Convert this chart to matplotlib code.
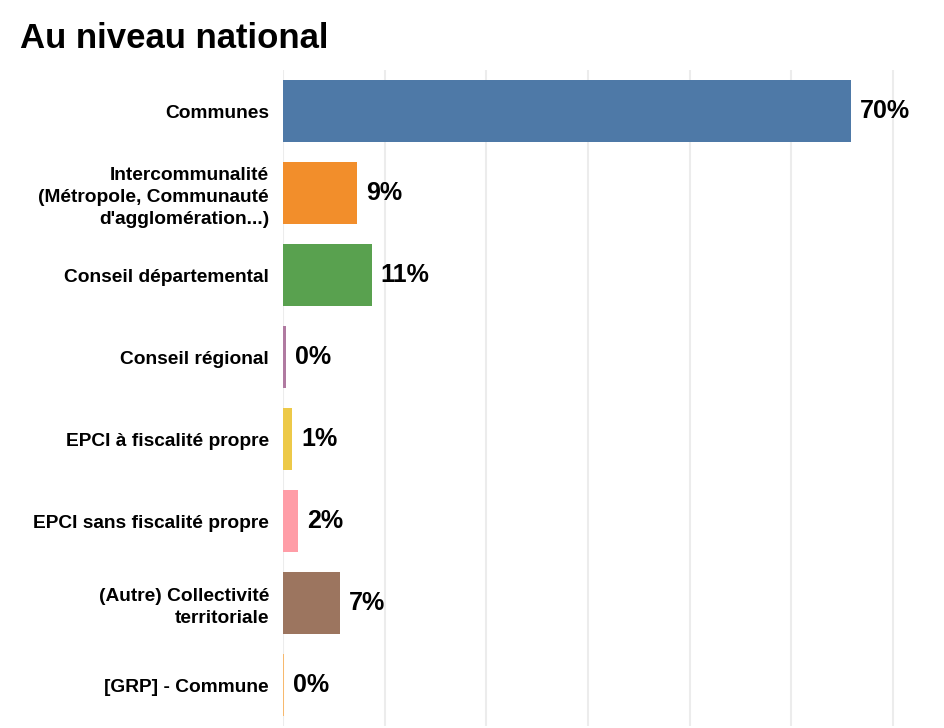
import matplotlib
matplotlib.use("Agg")
import matplotlib.pyplot as plt

categories = [
    "Communes",
    "Intercommunalité\n(Métropole, Communauté\nd'agglomération...)",
    "Conseil départemental",
    "Conseil régional",
    "EPCI à fiscalité propre",
    "EPCI sans fiscalité propre",
    "(Autre) Collectivité\nterritoriale",
    "[GRP] - Commune",
]
values = [69.8, 9.1, 10.9, 0.4, 1.1, 1.8, 7.0, 0.1]
value_labels = ["70%", "9%", "11%", "0%", "1%", "2%", "7%", "0%"]
colors = ["#4e79a7", "#f28e2b", "#59a14f", "#b07aa1", "#edc948", "#ff9da7", "#9c755f", "#f7b96e"]
grid_ticks = [0, 12.5, 25, 37.5, 50, 62.5, 75]

plt.rcParams['font.family'] = ['Liberation Sans', 'DejaVu Sans']

W, H = 945, 728
fig = plt.figure(figsize=(W / 100, H / 100), dpi=100)
ax = fig.add_axes([283 / W, 2 / H, (W - 283) / W, (726 - 70) / H])

y = list(range(len(categories)))
ax.barh(y, values, height=0.756, color=colors, zorder=3)
ax.set_ylim(len(categories) - 0.5, -0.5)
ax.set_xlim(0, 81.4)

ax.set_yticks(y)
ax.set_yticklabels(categories, fontsize=13.8, fontweight='bold', linespacing=1.36)
ax.tick_params(axis='y', length=0, pad=10)
ax.set_xticks(grid_ticks)
ax.tick_params(axis='x', length=0, labelbottom=False)
ax.grid(axis='x', color='#ececec', linewidth=1.5, zorder=0)
ax.grid(axis='y', visible=False)
for s in ax.spines.values():
    s.set_visible(False)

for yi, v, lab in zip(y, values, value_labels):
    ax.annotate(lab, xy=(v, yi), xytext=(6.5, 0), textcoords='offset points',
                va='center', ha='left', fontsize=18, fontweight='bold', color='black')

fig.text(20 / W, 1 - 48 / H, "Au niveau national", fontsize=25, fontweight='bold',
         ha='left', va='baseline')

fig.savefig("out.png", dpi=100)
